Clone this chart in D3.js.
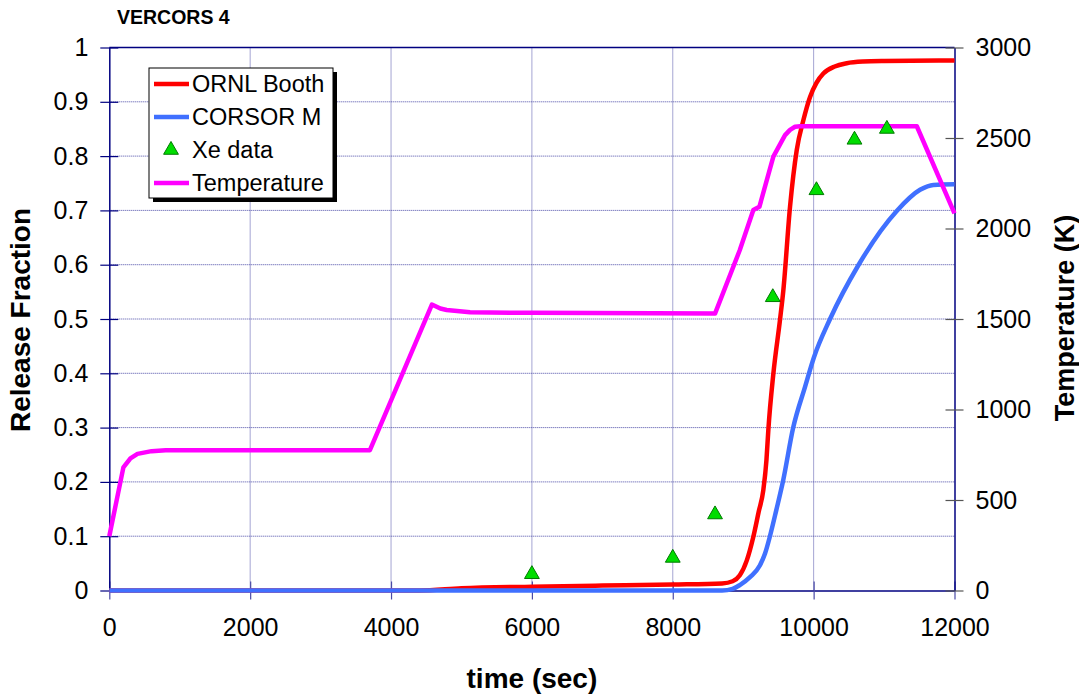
<!DOCTYPE html>
<html>
<head>
<meta charset="utf-8">
<script src="https://cdn.jsdelivr.net/npm/d3@7"></script>
<style>
  body { margin: 0; background: #fff; }
  svg { display: block; font-family: "Liberation Sans", Arial, sans-serif; }
  .grid line { stroke: #4a4aa6; stroke-width: 1; stroke-dasharray: 1,1; }
</style>
</head>
<body>
<script>
// data
const xTicks = [0, 2000, 4000, 6000, 8000, 10000, 12000];
const yTicks = [0, 0.1, 0.2, 0.3, 0.4, 0.5, 0.6, 0.7, 0.8, 0.9, 1];
const tTicks = [0, 500, 1000, 1500, 2000, 2500, 3000];

// ORNL Booth release fraction [time, fraction]
const ornlBooth = [[0,0],[4400,0],[5000,0.004],[6000,0.007],[7000,0.009],[8000,0.011],[8700,0.013],
  [8850,0.017],[8952,0.028],[9050,0.055],[9144,0.099],[9220,0.145],[9286,0.185],[9330,0.24],[9357,0.296],
  [9428,0.399],[9523,0.499],[9570,0.553],[9665,0.707],[9760,0.811],[9854,0.866],[9949,0.909],
  [10040,0.935],[10138,0.952],[10300,0.965],[10470,0.971],[10700,0.974],[11000,0.975],[12000,0.976]];

// CORSOR M release fraction
const corsorM = [[0,0],[8700,0],[8850,0.003],[8952,0.01],[9100,0.025],[9236,0.046],[9310,0.068],
  [9378,0.099],[9470,0.148],[9568,0.203],[9710,0.300],[9878,0.375],[10006,0.430],[10233,0.500],
  [10635,0.599],[11180,0.699],[11511,0.738],[11700,0.747],[12000,0.748]];

// Xe data points
const xeData = [[6000,0.03],[8000,0.06],[8600,0.14],[9420,0.54],[10040,0.737],[10580,0.83],[11040,0.85]];

// temperature [time, K]
const temperature = [[0,300],[200,680],[300,730],[400,755],[600,770],[800,775],[3700,775],[4580,1580],
  [4700,1558],[4790,1550],[5122,1537],[6000,1534],[8600,1530],[8952,1881],[9144,2102],[9190,2112],
  [9230,2120],[9428,2397],[9594,2516],[9665,2545],[9736,2562],[9810,2565],[11465,2565],[12000,2084]];

const legendItems = [
  {name: "ORNL Booth", color: "#ff0000", type: "line"},
  {name: "CORSOR M", color: "#4070ff", type: "line"},
  {name: "Xe data", color: "#00dd00", type: "tri"},
  {name: "Temperature", color: "#ff00ff", type: "line"}
];

const W = 1079, H = 696;
const pLeft = 109.3, pRight = 954.5, pTop = 47.5, pBottom = 590.5;

const svg = d3.select("body").append("svg").attr("width", W).attr("height", H);

const x = d3.scaleLinear().domain([0, 12000]).range([pLeft, pRight]);
const y = d3.scaleLinear().domain([0, 1]).range([pBottom, pTop]);
const yT = d3.scaleLinear().domain([0, 3000]).range([pBottom, pTop]);

// grid
const grid = svg.append("g").attr("class", "grid");
grid.selectAll(".hg").data(yTicks.filter(d => d > 0 && d < 1)).enter().append("line")
    .attr("x1", pLeft).attr("x2", pRight)
    .attr("y1", d => y(d)).attr("y2", d => y(d));
grid.selectAll(".vg").data(xTicks.filter(d => d > 0 && d < 12000)).enter().append("line")
    .attr("y1", pTop).attr("y2", pBottom)
    .attr("x1", d => x(d)).attr("x2", d => x(d));

// top frame line
svg.append("line").attr("x1", pLeft).attr("x2", pRight).attr("y1", pTop).attr("y2", pTop)
    .attr("stroke", "#000080").attr("stroke-width", 1.5);

// axes
const xAxis = d3.axisBottom(x).tickValues(xTicks).tickSizeInner(9).tickSizeOuter(0).tickPadding(19)
    .tickFormat(d3.format("d"));
const yAxis = d3.axisLeft(y).tickValues(yTicks).tickSizeInner(9).tickSizeOuter(0).tickPadding(12)
    .tickFormat(d => d3.format("~g")(d));
const tAxis = d3.axisRight(yT).tickValues(tTicks).tickSizeInner(9).tickSizeOuter(0).tickPadding(12)
    .tickFormat(d3.format("d"));

function styleAxis(g, tickColor) {
  g.select(".domain").attr("stroke", "#000080").attr("stroke-width", 1.5);
  g.selectAll(".tick line").attr("stroke", tickColor).attr("stroke-width", 1.2);
  g.selectAll(".tick text").attr("font-size", 25).attr("fill", "#000")
    .attr("font-family", "'Liberation Sans', Arial, sans-serif");
}

const gx = svg.append("g").attr("transform", `translate(0,${pBottom})`).call(xAxis);
gx.selectAll(".tick line").attr("y1", -9);
styleAxis(gx, "#4a4aa6");

const gy = svg.append("g").attr("transform", `translate(${pLeft},0)`).call(yAxis);
gy.selectAll(".tick line").attr("x1", 9);
styleAxis(gy, "#000080");

const gt = svg.append("g").attr("transform", `translate(${pRight},0)`).call(tAxis);
gt.selectAll(".tick line").attr("x1", -9);
styleAxis(gt, "#555");

// series
const line = d3.line().x(d => x(d[0])).y(d => y(d[1])).curve(d3.curveMonotoneX);
const lineT = d3.line().x(d => x(d[0])).y(d => yT(d[1])).curve(d3.curveLinear);

svg.append("path").datum(ornlBooth).attr("d", line)
    .attr("fill", "none").attr("stroke", "#ff0000").attr("stroke-width", 4.5).attr("stroke-linejoin", "round");
svg.append("path").datum(corsorM).attr("d", line)
    .attr("fill", "none").attr("stroke", "#4070ff").attr("stroke-width", 4.5).attr("stroke-linejoin", "round");
svg.append("path").datum(temperature).attr("d", lineT)
    .attr("fill", "none").attr("stroke", "#ff00ff").attr("stroke-width", 4.5).attr("stroke-linejoin", "round");

const tri = d3.symbol().type(d3.symbolTriangle).size(95);
svg.selectAll(".xe").data(xeData).enter().append("path")
    .attr("class", "xe")
    .attr("d", tri)
    .attr("transform", d => `translate(${x(d[0])},${y(d[1])})`)
    .attr("fill", "#00dd00").attr("stroke", "#007a00").attr("stroke-width", 1);

// titles
svg.append("text").attr("x", 117).attr("y", 24)
    .attr("font-size", 19.5).attr("font-weight", "bold").text("VERCORS 4");

svg.append("text").attr("x", (pLeft + pRight) / 2).attr("y", 688)
    .attr("text-anchor", "middle").attr("font-size", 28).attr("font-weight", "bold").text("time (sec)");

svg.append("text").attr("transform", "translate(30,320) rotate(-90)")
    .attr("text-anchor", "middle").attr("font-size", 28).attr("font-weight", "bold").text("Release Fraction");

svg.append("text").attr("transform", "translate(1074,318) rotate(-90)")
    .attr("text-anchor", "middle").attr("font-size", 27).attr("font-weight", "bold").text("Temperature (K)");

// legend
const lg = svg.append("g").attr("transform", "translate(149,68)");
lg.append("rect").attr("x", 4).attr("y", 4).attr("width", 184).attr("height", 130).attr("fill", "#000");
lg.append("rect").attr("width", 184).attr("height", 130).attr("fill", "#fff")
    .attr("stroke", "#000").attr("stroke-width", 1);

const rows = lg.selectAll(".row").data(legendItems).enter().append("g")
    .attr("transform", (d, i) => `translate(0,${16 + i * 33})`);
rows.filter(d => d.type === "line").append("line")
    .attr("x1", 5).attr("x2", 40).attr("y1", 0).attr("y2", 0)
    .attr("stroke", d => d.color).attr("stroke-width", 4.5);
rows.filter(d => d.type === "tri").append("path")
    .attr("d", tri).attr("transform", "translate(22,0)")
    .attr("fill", "#00dd00").attr("stroke", "#007a00");
rows.append("text").attr("x", 43).attr("y", 0).attr("dy", "0.36em")
    .attr("font-size", 23.5).text(d => d.name);
</script>
</body>
</html>
